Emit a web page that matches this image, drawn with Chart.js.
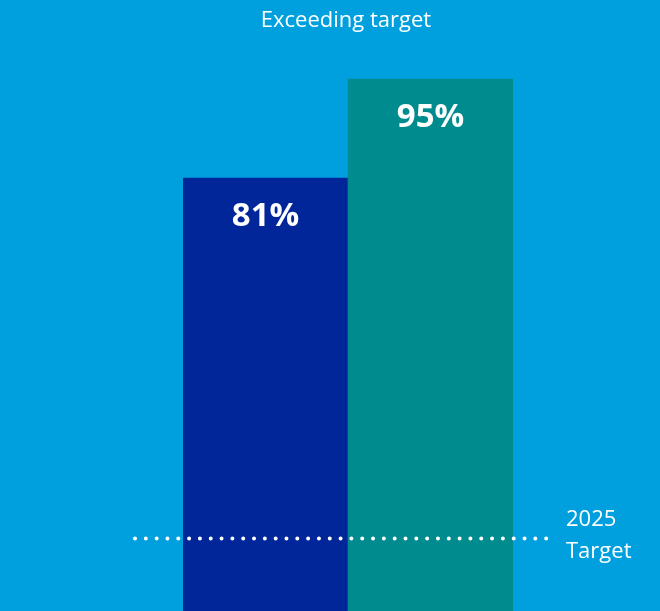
<!doctype html>
<html lang="en">
<head>
  <meta charset="utf-8" />
  <title>Exceeding target</title>
  <style>
    html,body{margin:0;padding:0;background:#00a0df;overflow:hidden}
    .wrap{position:relative;width:660px;height:611px}
  </style>
  <script src="https://cdn.jsdelivr.net/npm/chart.js@4.4.1/dist/chart.umd.min.js"></script>
</head>
<body>
<div class="wrap"><canvas id="c" width="660" height="611"></canvas></div>
<script>
const categories = ["Current", "Projected"];
const values = [81, 95];
const barColors = ["#00269a", "#008b8f"];
const targetValue = 30;
const titleText = "Exceeding target";
const targetLabel = ["2025", "Target"];

// draws title, value labels, dotted target line and its label
const extras = {
  id: "extras",
  afterDatasetsDraw(chart) {
    const { ctx, scales: { y } } = chart;
    ctx.save();
    ctx.fillStyle = "#fff";
    ctx.textAlign = "center";
    ctx.textBaseline = "middle";

    ctx.font = "22px 'Open Sans'";
    ctx.fillText(titleText, 346, 21);

    ctx.font = "bold 33px 'Open Sans'";
    chart.getDatasetMeta(0).data.forEach((bar, i) => {
      ctx.fillText(values[i] + "%", bar.x, bar.y + 39);
    });

    const ty = y.getPixelForValue(targetValue);
    ctx.strokeStyle = "#fff";
    ctx.lineWidth = 4;
    ctx.lineCap = "round";
    ctx.setLineDash([0, 10.82]);
    ctx.beginPath();
    ctx.moveTo(135, ty);
    ctx.lineTo(547, ty);
    ctx.stroke();
    ctx.setLineDash([]);

    ctx.textAlign = "left";
    ctx.font = "22px 'Open Sans'";
    ctx.fillText(targetLabel[0], 566, ty - 19);
    ctx.fillText(targetLabel[1], 566, ty + 13);
    ctx.restore();
  }
};

new Chart(document.getElementById("c"), {
  type: "bar",
  data: {
    labels: categories,
    datasets: [{ data: values, backgroundColor: barColors, borderWidth: 0,
      barPercentage: 1, categoryPercentage: 1 }]
  },
  options: {
    responsive: false, animation: false,
    layout: { padding: { left: 183, right: 147, top: 0, bottom: 0 } },
    plugins: { legend: { display: false }, tooltip: { enabled: false } },
    scales: {
      x: { display: false },
      y: { display: false, min: 19.76, max: 106.17 }
    }
  },
  plugins: [extras]
});
</script>
</body>
</html>
